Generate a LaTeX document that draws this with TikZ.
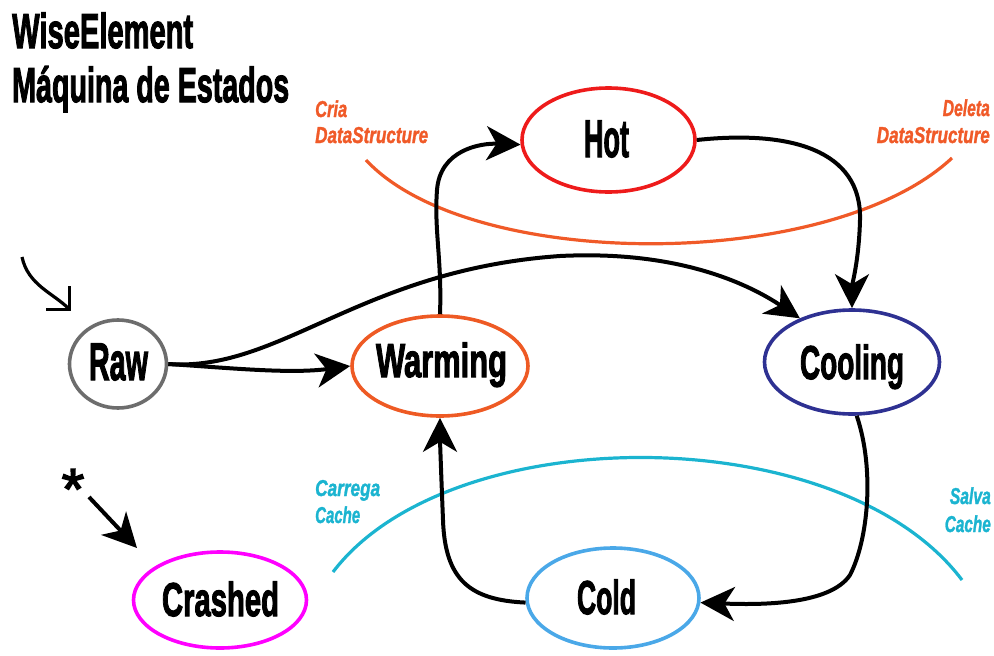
\documentclass[tikz,border=0pt]{standalone}
\usepackage{fontspec}
\usepackage{graphicx}
\setmainfont{Liberation Sans}
\newfontfamily\heavy[FakeBold=2.6]{Liberation Sans}
\newfontfamily\noteheavy[FakeBold=1.6]{Liberation Sans}
\usetikzlibrary{arrows.meta,shapes.geometric}

\definecolor{hotred}{HTML}{EE1B1B}
\definecolor{warmorange}{HTML}{EE5A24}
\definecolor{coolnavy}{HTML}{2E3192}
\definecolor{rawgray}{HTML}{6D6D6D}
\definecolor{crashpink}{HTML}{FF00FF}
\definecolor{coldblue}{HTML}{4AA8E8}
\definecolor{dsorange}{HTML}{F05A28}
\definecolor{cachecyan}{HTML}{1BB4D0}

% squeeze a text horizontally to a given width (in pt), keeping its height
\newcommand\squeeze[2]{\resizebox{#1pt}{\height}{#2}}

\begin{document}
\begin{tikzpicture}[x=1pt,y=-1pt,
  stateshape/.style={ellipse, draw, line width=3.6pt, inner sep=0pt},
  statetext/.style={inner sep=0pt, anchor=base, font=\heavy\fontsize{53}{53}\selectfont\bfseries},
  smalltext/.style={inner sep=0pt, anchor=base, font=\heavy\fontsize{47.5}{47.5}\selectfont\bfseries},
  titletext/.style={inner sep=0pt, anchor=base west, font=\heavy\fontsize{49}{49}\selectfont\bfseries},
  notetext/.style={inner sep=0pt, font=\noteheavy\fontsize{23}{23}\selectfont\bfseries\itshape},
  flow/.style={line width=4pt, -{Stealth[length=34pt,width=34pt,inset=10pt]}},
  arc/.style={line width=3.2pt},
]
\useasboundingbox (0,0) rectangle (994,656);

% title
\node[titletext] (title1) at (12,48) {\squeeze{181}{WiseElement}};
\node[titletext] (title2) at (12,102) {\squeeze{277}{Máquina de Estados}};

% data structure boundary
\draw[arc, dsorange] (366,160) .. controls (470,272) and (830,272) .. (952,158);
\node[notetext, text=dsorange, anchor=base west] (cria1) at (315,117) {\squeeze{32}{Cria}};
\node[notetext, text=dsorange, anchor=base west] (cria2) at (315,143) {\squeeze{113}{DataStructure}};
\node[notetext, text=dsorange, anchor=base east] (deleta1) at (990,116) {\squeeze{47}{Deleta}};
\node[notetext, text=dsorange, anchor=base east] (deleta2) at (990,143) {\squeeze{113}{DataStructure}};

% cache boundary
\draw[arc, cachecyan] (333,572) .. controls (450,418) and (840,418) .. (962,580);
\node[notetext, text=cachecyan, anchor=base west] (carrega1) at (315,496) {\squeeze{65}{Carrega}};
\node[notetext, text=cachecyan, anchor=base west] (carrega2) at (315,523) {\squeeze{45}{Cache}};
\node[notetext, text=cachecyan, anchor=base east] (salva1) at (991,504) {\squeeze{41}{Salva}};
\node[notetext, text=cachecyan, anchor=base east] (salva2) at (991,532) {\squeeze{46}{Cache}};

% states
\node[stateshape, draw=hotred, minimum width=173pt, minimum height=104pt] (hot) at (608.5,140) {};
\node[stateshape, draw=rawgray, minimum width=97pt, minimum height=88pt] (raw) at (118,364) {};
\node[stateshape, draw=warmorange, minimum width=176pt, minimum height=100pt] (warming) at (440,366) {};
\node[stateshape, draw=coolnavy, minimum width=175pt, minimum height=104pt] (cooling) at (852,362) {};
\node[stateshape, draw=crashpink, minimum width=173pt, minimum height=96pt] (crashed) at (220,600) {};
\node[stateshape, draw=coldblue, minimum width=172pt, minimum height=100pt] (cold) at (613,598) {};

\node[statetext] (hot-t) at (606.5,157) {\squeeze{45}{Hot}};
\node[statetext] (raw-t) at (118.5,380) {\squeeze{59}{Raw}};
\node[smalltext] (warming-t) at (441.5,377) {\squeeze{131}{Warming}};
\node[smalltext] (cooling-t) at (852,379) {\squeeze{104}{Cooling}};
\node[smalltext] (crashed-t) at (220.5,616) {\squeeze{117}{Crashed}};
\node[smalltext] (cold-t) at (606.5,614) {\squeeze{59}{Cold}};

% entry into Raw
\coordinate (raw-in-a) at (22,257);
\coordinate (raw-in-b) at (71,311);
\draw[line width=3.2pt, -{Straight Barb[angle=90:23pt]}] (raw-in-a) .. controls (28,285) and (53,293) .. (raw-in-b);

% entry into Crashed from any state
\node[inner sep=0pt, anchor=base, font=\heavy\fontsize{58}{58}\selectfont] (star) at (73,509) {*};
\coordinate (crash-a) at (89,497);
\coordinate (crash-b) at (137,548);
\draw[flow] (crash-a) -- (crash-b);

% transitions
\draw[flow] (raw.east) .. controls (230,368) and (290,374) .. (warming.west);
\draw[flow] (raw.east) .. controls (280,372) and (360,270) .. (560,256)
  .. controls (680,250) and (750,285) .. (cooling.140);
\draw[flow] (warming.north) .. controls (442,260) and (434,230) .. (437,190)
  .. controls (440,150) and (480,143) .. (hot.183);
\draw[flow] (hot.east) .. controls (790,130) and (862,150) .. (860,220)
  .. controls (859,260) and (852,285) .. (cooling.north);
\draw[flow] (cooling.-85) .. controls (875,470) and (868,540) .. (850,575)
  .. controls (830,605) and (760,605) .. (cold.-3);
\draw[flow] (cold.183) .. controls (470,600) and (445,580) .. (443,520)
  .. controls (441,470) and (440,440) .. (warming.south);
\end{tikzpicture}
\end{document}
